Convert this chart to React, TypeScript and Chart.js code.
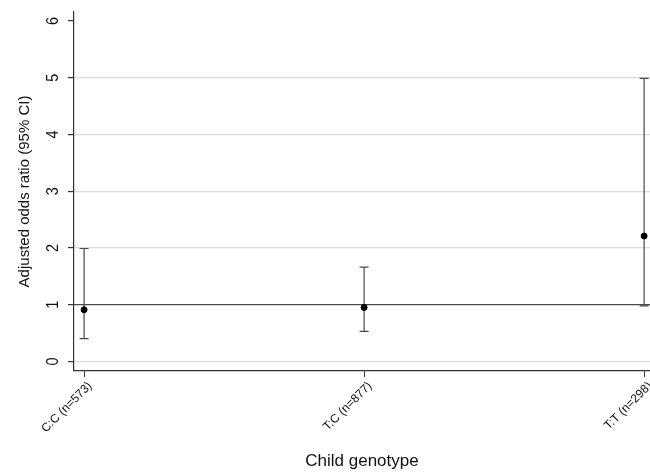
import React, { useEffect, useRef } from "react";
import { Chart, registerables } from "chart.js";

Chart.register(...registerables);

const categories = ["C:C (n=573)", "T:C (n=877)", "T:T (n=298)"];
const oddsRatio = [0.91, 0.95, 2.21];
const ciLower = [0.4, 0.53, 0.98];
const ciUpper = [1.99, 1.66, 4.99];
const yTickValues = [0, 1, 2, 3, 4, 5, 6];
const referenceValue = 1;

const FONT = "'Liberation Sans', Arial, Helvetica, sans-serif";

export default function App() {
  const canvasRef = useRef<HTMLCanvasElement | null>(null);

  useEffect(() => {
    document.body.style.margin = "0";
    const canvas = canvasRef.current;
    if (!canvas) return;

    const errorBarPlugin = {
      id: "errorBars",
      beforeDatasetsDraw(chart: any) {
        const { ctx, chartArea, scales } = chart;
        const xs = scales.x;
        const ys = scales.y;
        ctx.save();
        const yRef = ys.getPixelForValue(referenceValue);
        ctx.strokeStyle = "#4a4a4a";
        ctx.lineWidth = 1.4;
        ctx.beginPath();
        ctx.moveTo(chartArea.left, yRef);
        ctx.lineTo(chartArea.right, yRef);
        ctx.stroke();
        ctx.strokeStyle = "#4a4a4a";
        ctx.lineWidth = 1.2;
        for (let i = 0; i < categories.length; i++) {
          const x = xs.getPixelForValue(i);
          const yl = ys.getPixelForValue(ciLower[i]);
          const yu = ys.getPixelForValue(ciUpper[i]);
          const cap = 4.5;
          ctx.beginPath();
          ctx.moveTo(x, yl);
          ctx.lineTo(x, yu);
          ctx.moveTo(x - cap, yl);
          ctx.lineTo(x + cap, yl);
          ctx.moveTo(x - cap, yu);
          ctx.lineTo(x + cap, yu);
          ctx.stroke();
        }
        ctx.restore();
      },
      afterDraw(chart: any) {
        const { ctx, scales } = chart;
        const ys = scales.y;
        ctx.save();
        ctx.fillStyle = "#111";
        ctx.font = `17px ${FONT}`;
        ctx.textAlign = "center";
        ctx.textBaseline = "middle";
        const xCenter = ys.right - 21;
        for (const t of ys.ticks) {
          const y = ys.getPixelForValue(t.value);
          ctx.save();
          ctx.translate(xCenter, y);
          ctx.rotate(-Math.PI / 2);
          ctx.scale(0.85, 1);
          ctx.fillText(String(t.value), 0, 0);
          ctx.restore();
        }
        ctx.restore();
      },
    };

    const chart = new Chart(canvas, {
      type: "scatter",
      data: {
        datasets: [
          {
            data: oddsRatio.map((v, i) => ({ x: i, y: v })),
            backgroundColor: "#000",
            borderColor: "#000",
            pointRadius: 3,
            pointHoverRadius: 3,
          },
        ],
      },
      options: {
        responsive: false,
        animation: false,
        events: [],
        layout: { autoPadding: false, padding: { top: 12, right: 0, left: 0, bottom: 0 } },
        plugins: {
          legend: { display: false },
          tooltip: { enabled: false },
        },
        scales: {
          x: {
            type: "linear",
            min: -0.036,
            max: 2.021,
            afterBuildTicks: (scale: any) => {
              scale.ticks = categories.map((_, i) => ({ value: i }));
            },
            afterFit: (scale: any) => {
              scale.height = 101;
              scale.paddingLeft = 0;
              scale.paddingRight = 0;
            },
            ticks: {
              autoSkip: false,
              minRotation: 45,
              maxRotation: 45,
              padding: 2,
              labelOffset: 6,
              color: "#111",
              font: { family: FONT, size: 12 },
              callback: (v: any) => categories[v] ?? "",
            },
            grid: {
              drawOnChartArea: false,
              drawTicks: true,
              tickLength: 6,
              tickColor: "#333",
              lineWidth: 1,
            },
            border: { display: true, color: "#333", width: 1.2 },
            title: {
              display: true,
              text: "Child genotype",
              color: "#111",
              font: { family: FONT, size: 17 },
              padding: { top: 0, bottom: 0 },
            },
          },
          y: {
            type: "linear",
            min: -0.17,
            max: 6.16,
            afterBuildTicks: (scale: any) => {
              scale.ticks = yTickValues.map((v) => ({ value: v }));
            },
            afterFit: (scale: any) => {
              scale.width = 74;
              scale.paddingTop = 0;
              scale.paddingBottom = 0;
            },
            ticks: {
              display: false,
            },
            grid: {
              color: (c: any) => {
                const v = c.tick ? c.tick.value : null;
                if (v === 6 || v === 1) return "rgba(0,0,0,0)";
                return "#dcdcdc";
              },
              lineWidth: 1.2,
              drawTicks: true,
              tickLength: 6,
              tickColor: "#333",
            },
            border: { display: true, color: "#333", width: 1.2 },
            title: {
              display: true,
              text: "Adjusted odds ratio (95% CI)",
              color: "#111",
              font: { family: FONT, size: 15 },
              padding: { top: 16, bottom: 0 },
            },
          },
        },
      },
      plugins: [errorBarPlugin],
    } as any);

    return () => chart.destroy();
  }, []);

  return (
    <div style={{ width: 650, height: 472, background: "#fff" }}>
      <canvas ref={canvasRef} width={650} height={472} />
    </div>
  );
}
